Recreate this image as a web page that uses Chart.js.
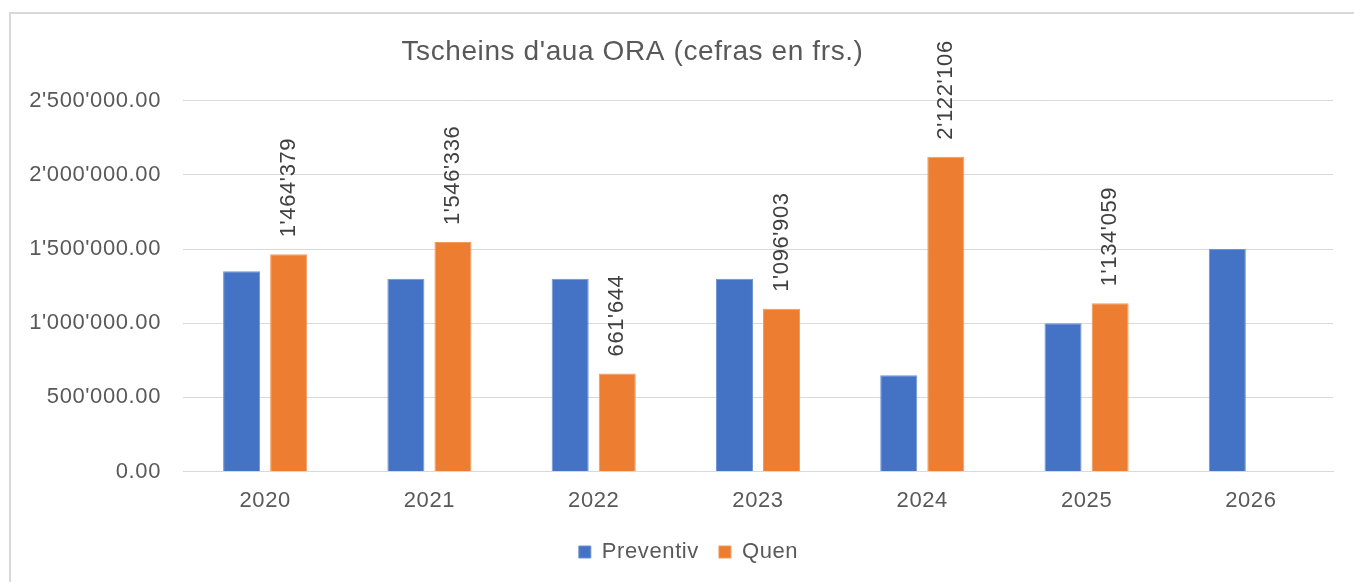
<!DOCTYPE html>
<html>
<head>
<meta charset="utf-8">
<script src="https://cdn.jsdelivr.net/npm/chart.js@4/dist/chart.umd.min.js"></script>
<style>
  html, body { margin: 0; padding: 0; background: #fff; overflow: hidden; }
  #wrap { position: relative; width: 1354px; height: 582px; }
  #frame { position: absolute; left: 9px; top: 12px; width: 1400px; height: 600px; border: 2px solid #d9d9d9; box-sizing: border-box; }
  canvas { position: absolute; left: 0; top: 0; }
</style>
</head>
<body>
<div id="wrap">
  <div id="frame"></div>
  <canvas id="mycanvas" width="1354" height="582"></canvas>
</div>
<script>
var years = ['2020', '2021', '2022', '2023', '2024', '2025', '2026'];
var preventiv = [1350000, 1300000, 1300000, 1300000, 650000, 1000000, 1500000];
var quen = [1464379, 1546336, 661644, 1096903, 2122106, 1134059, null];
var yTicks = [0, 500000, 1000000, 1500000, 2000000, 2500000];

var FONT = '"Liberation Sans", Arial, sans-serif';

function swiss(n, dec) {
	var s = n.toFixed(dec);
	var parts = s.split('.');
	var int = parts[0].replace(/\B(?=(\d{3})+(?!\d))/g, "'");
	return parts.length > 1 ? int + '.' + parts[1] : int;
}

// the original text is a bit wider than Liberation Sans, spread it a little
var spacing = {
	id: 'spacing',
	beforeUpdate: function(chart) { chart.ctx.letterSpacing = '0.6px'; },
	beforeDraw: function(chart) { chart.ctx.letterSpacing = '0.6px'; }
};

// title sits left of centre and legend a bit right of centre in the original
var nudge = {
	id: 'nudge',
	afterLayout: function(chart) {
		chart.titleBlock.left -= 34;
		chart.titleBlock.right -= 34;
		chart.legend.left += 22;
		chart.legend.right += 22;
		chart.legend.top -= 1;
		chart.legend.bottom -= 1;
		chart.legend.adjustHitBoxes();
	}
};

// rotated value labels above the orange bars
var barLabels = {
	id: 'barLabels',
	afterDatasetsDraw: function(chart) {
		var ctx = chart.ctx;
		var meta = chart.getDatasetMeta(1);
		ctx.save();
		ctx.font = '22px ' + FONT;
		ctx.fillStyle = '#404040';
		ctx.textAlign = 'left';
		ctx.textBaseline = 'middle';
		meta.data.forEach(function(bar, i) {
			if (quen[i] == null) return;
			ctx.save();
			ctx.translate(bar.x, bar.y - 17);
			ctx.rotate(-Math.PI / 2);
			ctx.fillText(swiss(quen[i], 0), 0, 0);
			ctx.restore();
		});
		ctx.restore();
	}
};

var chartdata = {
	labels: years,
	datasets: [
		{
			label: 'Preventiv',
			backgroundColor: '#4472c4',
			borderColor: '#6f93d3',
			borderWidth: 1,
			data: preventiv
		},
		{
			label: 'Quen',
			backgroundColor: '#ed7d31',
			borderColor: '#f29a5e',
			borderWidth: 1,
			data: quen
		}
	]
};

var ctx = document.getElementById('mycanvas');
var barGraph = new Chart(ctx, {
	type: 'bar',
	data: chartdata,
	plugins: [spacing, nudge, barLabels],
	options: {
		responsive: false,
		animation: false,
		categoryPercentage: 0.573,
		barPercentage: 0.787,
		layout: { padding: { left: 0, right: 21, top: 0, bottom: 8 } },
		plugins: {
			title: {
				display: true,
				text: "Tscheins d'aua ORA (cefras en frs.)",
				color: '#595959',
				font: { family: FONT, size: 28, weight: 'normal' },
				padding: { top: 35, bottom: 32 }
			},
			legend: {
				position: 'bottom',
				labels: {
					color: '#595959',
					font: { family: FONT, size: 22 },
					boxWidth: 12,
					boxHeight: 12,
					padding: 20
				}
			},
			tooltip: { enabled: false }
		},
		scales: {
			x: {
				grid: { display: false },
				border: { color: '#d9d9d9', width: 1 },
				ticks: {
					color: '#595959',
					font: { family: FONT, size: 22 },
					padding: 8
				}
			},
			y: {
				min: 0,
				max: 2500000,
				afterBuildTicks: function(axis) {
					axis.ticks = yTicks.map(function(v) { return { value: v }; });
				},
				afterFit: function(axis) { axis.width = 183; },
				grid: { color: '#d9d9d9', lineWidth: 1, drawTicks: false },
				border: { display: false },
				ticks: {
					color: '#595959',
					font: { family: FONT, size: 22 },
					padding: 22,
					callback: function(v) { return swiss(v, 2); }
				}
			}
		}
	}
});
</script>
</body>
</html>
